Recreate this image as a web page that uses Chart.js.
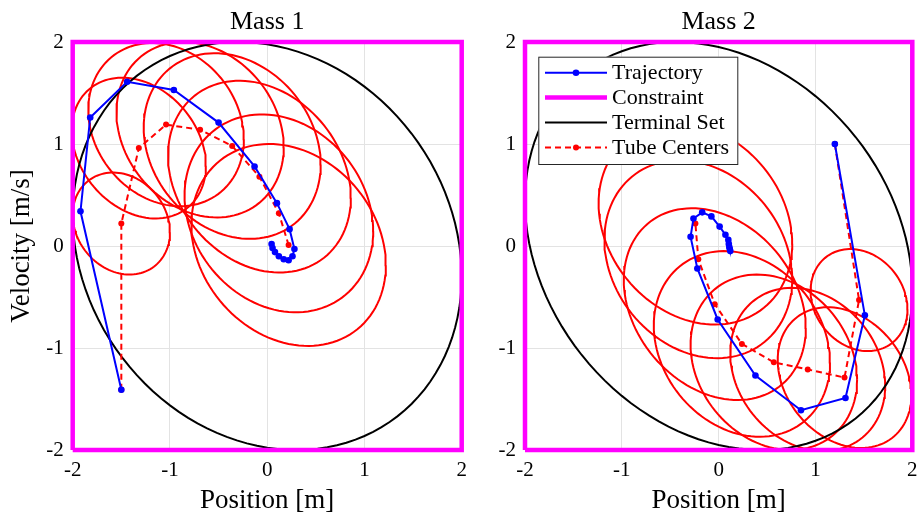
<!DOCTYPE html>
<html lang="en">
<head>
  <meta charset="UTF-8" />
  <title>Mass 1 / Mass 2 -- Tube MPC</title>
  <style>
    body { margin: 0; background: #fff; }
    #wrap { position: relative; width: 920px; height: 519px; }
    canvas { position: absolute; top: 0; }
  </style>
  <script src="https://cdn.jsdelivr.net/npm/chart.js"></script>
</head>
<body>
  <div id="wrap">
    <canvas id="mass1" width="470" height="519" style="left:0px"></canvas>
    <canvas id="mass2" width="450" height="519" style="left:470px"></canvas>
  </div>

  <script>
    const axisTicks = [-2, -1, 0, 1, 2];
    const legendLabels = ["Trajectory", "Constraint", "Terminal Set", "Tube Centers"];

    // constraint box |x| <= 2, |v| <= 2
    const constraintX = [-2, 2, 2, -2, -2];
    const constraintY = [-2, -2, 2, 2, -2];

    // tube cross-section sizes (same growth for both masses)
    const tubeRx = [0.50, 0.69, 0.80, 0.86, 0.91, 0.94, 0.97, 1.00];
    const tubeRy = [0.50, 0.69, 0.80, 0.86, 0.91, 0.94, 0.97, 0.99];

    // Mass 1
    const m1TrajX = [-1.50, -1.92, -1.82, -1.44, -0.96, -0.50, -0.13, 0.10, 0.23, 0.28, 0.26, 0.22, 0.17, 0.12, 0.08, 0.055, 0.045];
    const m1TrajY = [-1.41, 0.34, 1.26, 1.61, 1.53, 1.21, 0.78, 0.42, 0.165, -0.03, -0.10, -0.14, -0.13, -0.10, -0.06, -0.02, 0.02];
    const m1CenterX = [-1.50, -1.50, -1.32, -1.04, -0.69, -0.36, -0.08, 0.12, 0.22];
    const m1CenterY = [-1.41, 0.22, 0.96, 1.19, 1.14, 0.98, 0.68, 0.32, 0.01];
    const m1TubeRho = [-0.17, -0.25, -0.18, -0.20, -0.20, -0.22, -0.18, -0.20];
    const m1Terminal = [0, 0, 2, 2, -0.15]; // cx, cy, rx, ry, rho

    // Mass 2
    const m2TrajX = [1.20, 1.51, 1.31, 0.85, 0.38, -0.01, -0.22, -0.29, -0.26, -0.17, -0.075, 0.01, 0.07, 0.10, 0.105, 0.11, 0.115, 0.12];
    const m2TrajY = [1.00, -0.68, -1.49, -1.61, -1.27, -0.72, -0.22, 0.09, 0.27, 0.33, 0.29, 0.19, 0.11, 0.06, 0.02, -0.01, -0.03, -0.05];
    const m2CenterX = [1.20, 1.45, 1.30, 0.92, 0.57, 0.24, -0.04, -0.21, -0.24];
    const m2CenterY = [1.00, -0.53, -1.29, -1.21, -1.14, -0.96, -0.57, -0.13, 0.22];
    const m2TubeRho = [-0.18, -0.25, -0.20, -0.20, -0.20, -0.25, -0.20, -0.20];
    const m2Terminal = [0, 0, 2, 2, -0.22];

    const SERIF = '"Liberation Serif", "Times New Roman", serif';

    function toPoints(xs, ys) {
      return xs.map((x, i) => ({ x: x, y: ys[i] }));
    }

    // outline of an ellipse given by extents and x/y correlation
    function ellipse(cx, cy, rx, ry, rho) {
      const pts = [];
      const s = Math.sqrt(1 - rho * rho);
      for (let i = 0; i <= 120; i++) {
        const t = 2 * Math.PI * i / 120;
        pts.push({ x: cx + rx * Math.cos(t), y: cy + ry * (rho * Math.cos(t) + s * Math.sin(t)) });
      }
      return pts;
    }

    const panelTitle = {
      id: "panelTitle",
      afterDraw(chart, args, opts) {
        const { ctx, chartArea } = chart;
        ctx.save();
        ctx.font = "26px " + SERIF;
        ctx.fillStyle = "#000";
        ctx.textAlign = "center";
        ctx.textBaseline = "alphabetic";
        ctx.fillText(opts.text, (chartArea.left + chartArea.right) / 2, 29);
        ctx.restore();
      }
    };

    const insideLegend = {
      id: "insideLegend",
      afterDraw(chart, args, opts) {
        if (!opts.show) return;
        const ctx = chart.ctx;
        const bx = 68.3, by = 56.7, bw = 200, bh = 108.3;
        ctx.save();
        ctx.fillStyle = "#fff";
        ctx.fillRect(bx, by, bw, bh);
        ctx.strokeStyle = "#262626";
        ctx.lineWidth = 1;
        ctx.strokeRect(bx + 0.5, by + 0.5, bw - 1, bh - 1);
        legendLabels.forEach((label, i) => {
          const ds = chart.data.datasets.find(d => d.label === label);
          const y = 72.7 + i * 24.9;
          ctx.save();
          ctx.strokeStyle = ds.borderColor;
          ctx.lineWidth = ds.borderWidth;
          ctx.setLineDash(ds.borderDash || []);
          ctx.beginPath();
          ctx.moveTo(75, y);
          ctx.lineTo(137, y);
          ctx.stroke();
          if (ds.pointRadius > 0) {
            ctx.fillStyle = ds.pointBackgroundColor;
            ctx.beginPath();
            ctx.arc(106, y, ds.pointRadius, 0, 2 * Math.PI);
            ctx.fill();
          }
          ctx.restore();
          ctx.fillStyle = "#000";
          ctx.font = "22px " + SERIF;
          ctx.textAlign = "left";
          ctx.textBaseline = "middle";
          ctx.fillText(label, 142, y + 1);
        });
        ctx.restore();
      }
    };

    function makeChart(id, cfg) {
      const datasets = [];
      cfg.centerX.slice(1).forEach((cx, i) => {
        datasets.push({
          label: "tube" + i,
          data: ellipse(cx, cfg.centerY[i + 1], tubeRx[i], tubeRy[i], cfg.tubeRho[i]),
          showLine: true, borderColor: "#ff0000", borderWidth: 2, pointRadius: 0, order: 4
        });
      });
      datasets.push({
        label: "Terminal Set",
        data: ellipse(...cfg.terminal),
        showLine: true, borderColor: "#000000", borderWidth: 2, pointRadius: 0, order: 3
      });
      datasets.push({
        label: "Tube Centers",
        data: toPoints(cfg.centerX, cfg.centerY),
        showLine: true, borderColor: "#ff0000", borderWidth: 2, borderDash: [6, 4],
        pointRadius: 3, pointBackgroundColor: "#ff0000", pointBorderWidth: 0, order: 2
      });
      datasets.push({
        label: "Trajectory",
        data: toPoints(cfg.trajX, cfg.trajY),
        showLine: true, borderColor: "#0000ff", borderWidth: 2,
        pointRadius: 3.3, pointBackgroundColor: "#0000ff", pointBorderWidth: 0, order: 1
      });
      datasets.push({
        label: "Constraint",
        data: toPoints(constraintX, constraintY),
        showLine: true, borderColor: "#ff00ff", borderWidth: 4.5, pointRadius: 0,
        clip: false, order: 0
      });

      const ticksFont = { family: SERIF, size: 21 };
      return new Chart(document.getElementById(id), {
        type: "scatter",
        data: { datasets: datasets },
        options: {
          responsive: false,
          animation: false,
          events: [],
          layout: { padding: { top: 42, right: cfg.padRight, bottom: 0, left: 0 } },
          scales: {
            x: {
              type: "linear", min: -2, max: 2,
              afterBuildTicks: s => { s.ticks = axisTicks.map(v => ({ value: v })); },
              afterFit: s => { s.height = 69; s.paddingLeft = 0; s.paddingRight = 0; },
              ticks: { color: "#000", font: ticksFont, padding: 8 },
              grid: { color: "#e3e3e3", drawTicks: false },
              border: { display: false },
              title: { display: true, text: "Position [m]", color: "#000",
                       font: { family: SERIF, size: 27 }, padding: { top: 0, bottom: 2 } }
            },
            y: {
              type: "linear", min: -2, max: 2,
              afterBuildTicks: s => { s.ticks = axisTicks.map(v => ({ value: v })); },
              afterFit: s => { s.width = cfg.yWidth; s.paddingTop = 0; s.paddingBottom = 0; },
              ticks: { color: "#000", font: ticksFont, padding: 9 },
              grid: { color: "#e3e3e3", drawTicks: false },
              border: { display: false },
              title: { display: cfg.showYTitle, text: "Velocity [m/s]", color: "#000",
                       font: { family: SERIF, size: 27 }, padding: { top: 6, bottom: 0 } }
            }
          },
          plugins: {
            legend: { display: false },
            tooltip: { enabled: false },
            panelTitle: { text: cfg.title },
            insideLegend: { show: cfg.showLegend }
          }
        },
        plugins: [panelTitle, insideLegend]
      });
    }

    makeChart("mass1", {
      title: "Mass 1", trajX: m1TrajX, trajY: m1TrajY, centerX: m1CenterX, centerY: m1CenterY,
      tubeRho: m1TubeRho, terminal: m1Terminal, yWidth: 72.7, padRight: 8.3,
      showYTitle: true, showLegend: false
    });
    makeChart("mass2", {
      title: "Mass 2", trajX: m2TrajX, trajY: m2TrajY, centerX: m2CenterX, centerY: m2CenterY,
      tubeRho: m2TubeRho, terminal: m2Terminal, yWidth: 55, padRight: 7.7,
      showYTitle: false, showLegend: true
    });
  </script>
</body>
</html>
